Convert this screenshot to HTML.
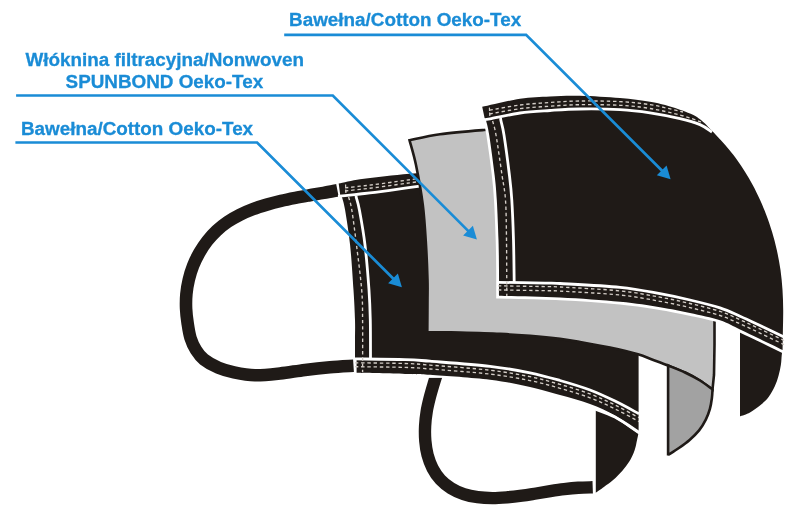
<!DOCTYPE html>
<html><head><meta charset="utf-8"><style>
html,body{margin:0;padding:0;background:#fff;}
body{width:800px;height:519px;overflow:hidden;font-family:"Liberation Sans",sans-serif;}
svg{display:block;filter:blur(0.35px);}
</style></head><body>
<svg width="800" height="519" viewBox="0 0 800 519">
<path d="M337.4 190.2 C335.12 190.65 328.3 192.05 323.7 192.9 C319.1 193.75 314.52 194.47 309.8 195.3 C305.08 196.13 300.2 196.97 295.4 197.9 C290.6 198.83 285.77 199.78 281 200.9 C276.23 202.02 271.48 203.23 266.8 204.6 C262.12 205.97 257.4 207.4 252.9 209.1 C248.4 210.8 244.02 212.67 239.8 214.8 C235.58 216.93 231.45 219.27 227.6 221.9 C223.75 224.53 220.1 227.42 216.7 230.6 C213.3 233.78 210.1 237.28 207.2 241 C204.3 244.72 201.65 248.77 199.3 252.9 C196.95 257.03 194.85 261.35 193.1 265.8 C191.35 270.25 189.92 274.9 188.8 279.6 C187.68 284.3 186.85 289.15 186.4 294 C185.95 298.85 185.9 303.87 186.1 308.7 C186.3 313.53 186.87 318.12 187.6 323 C188.33 327.88 189.1 333.5 190.5 338 C191.9 342.5 193.75 346.42 196 350 C198.25 353.58 200.25 356.53 204 359.5 C207.75 362.47 213.5 365.65 218.5 367.8 C223.5 369.95 227.92 371.15 234 372.4 C240.08 373.65 247.33 375.12 255 375.3 C262.67 375.48 271.67 374.4 280 373.5 C288.33 372.6 296.67 370.93 305 369.9 C313.33 368.87 321.92 367.98 330 367.3 C338.08 366.62 349.58 366.05 353.5 365.8" fill="none" stroke="#1f1a17" stroke-width="12.6"/>
<path d="M437.9 370.4 C437.22 372.57 435.13 378.95 433.8 383.4 C432.47 387.85 431.08 392.43 429.9 397.1 C428.72 401.77 427.5 406.57 426.7 411.4 C425.9 416.23 425.33 421.18 425.1 426.1 C424.87 431.02 424.88 436.05 425.3 440.9 C425.72 445.75 426.38 450.63 427.6 455.2 C428.82 459.77 430.47 464.23 432.6 468.3 C434.73 472.37 437.33 476.28 440.4 479.6 C443.47 482.92 447.12 485.78 451 488.2 C454.88 490.62 459.25 492.6 463.7 494.1 C468.15 495.6 472.92 496.53 477.7 497.2 C482.48 497.87 487.47 498.08 492.4 498.1 C497.33 498.12 502.38 497.7 507.3 497.3 C512.22 496.9 517.1 496.33 521.9 495.7 C526.7 495.07 531.38 494.25 536.1 493.5 C540.82 492.75 545.52 491.92 550.2 491.2 C554.88 490.48 559.52 489.77 564.2 489.2 C568.88 488.63 573.55 488.12 578.3 487.8 C583.05 487.48 590.3 487.38 592.7 487.3" fill="none" stroke="#1f1a17" stroke-width="12.4"/>
<rect x="420" y="365" width="30" height="12.9" fill="#fff"/>
<path d="M338.7 183.6 C342.25 182.88 352.28 180.53 360 179.3 C367.72 178.07 376.67 177.12 385 176.2 C393.33 175.28 400.83 174.67 410 173.8 C419.17 172.93 428.33 172.22 440 171 C451.67 169.78 473.33 167.25 480 166.5 L600 230 L636 330 L638.6 345 L638.6 431.4 C634.67 428.77 623.1 420.17 615 415.6 C606.9 411.03 599.17 407.43 590 404 C580.83 400.57 570 397.83 560 395 C550 392.17 541.67 389.55 530 387 C518.33 384.45 506.67 381.75 490 379.7 C473.33 377.65 444.17 375.67 430 374.7 C415.83 373.73 417.23 374.22 405 373.9 C392.77 373.58 364.67 372.98 356.6 372.8 L356.6 360 L355 358 C355 355 355 346.33 355 340 C355 333.67 355.25 328.33 355 320 C354.75 311.67 354.32 302.5 353.5 290 C352.68 277.5 351.5 258.33 350.1 245 C348.7 231.67 346.43 217.92 345.1 210 C343.77 202.08 342.6 199.58 342.1 197.5 L340.2 195.1 L338.7 183.6 Z" fill="#1f1a17"/>
<path d="M595.8 409.8 C599 411.2 607.92 414.17 615 418.2 C622.08 422.23 634.42 431.37 638.3 434 C637.95 435.7 636.93 441.15 636.2 444.2 C635.47 447.25 635.05 449.4 633.9 452.3 C632.75 455.2 631.22 458.52 629.3 461.6 C627.38 464.68 625.1 467.72 622.4 470.8 C619.7 473.88 616.18 477.4 613.1 480.1 C610.02 482.8 606.78 484.88 603.9 487 C601.02 489.12 597.15 491.83 595.8 492.8 L595.8 409.8 Z" fill="#1f1a17"/>
<path d="M338 196.3 C339.17 196.2 341.33 196.08 345 195.7 C348.67 195.32 355 194.57 360 194 C365 193.43 367.5 193.27 375 192.3 C382.5 191.33 397.5 189.22 405 188.2 C412.5 187.18 414.17 186.97 420 186.2 C425.83 185.43 430 184.88 440 183.6 C450 182.32 473.33 179.35 480 178.5" fill="none" stroke="#fff" stroke-width="2.8"/>
<path d="M356.3 195.5 C356.3 195.83 355.78 195.08 356.3 197.5 C356.82 199.92 357.95 202.08 359.4 210 C360.85 217.92 363.4 231.67 365 245 C366.6 258.33 368.12 277.5 369 290 C369.88 302.5 370.05 308.53 370.3 320 C370.55 331.47 370.47 352.33 370.5 358.8" fill="none" stroke="#fff" stroke-width="2.8"/>
<path d="M355 358.9 C363.33 359.02 392.5 359.22 405 359.6 C417.5 359.98 415.83 360.08 430 361.2 C444.17 362.32 473.33 364.37 490 366.3 C506.67 368.23 518.33 370.43 530 372.8 C541.67 375.17 550 377.63 560 380.5 C570 383.37 580.83 386.57 590 390 C599.17 393.43 606.83 397.13 615 401.1 C623.17 405.07 635 411.68 639 413.8" fill="none" stroke="#fff" stroke-width="2.8"/>
<path d="M594 408.6 C597.5 410.02 607.33 413.05 615 417.1 C622.67 421.15 635.83 430.27 640 432.9" fill="none" stroke="#fff" stroke-width="2.8"/>
<path d="M345 187.9 C347.5 187.62 355 186.77 360 186.2 C365 185.63 367.5 185.47 375 184.5 C382.5 183.53 397.5 181.42 405 180.4 C412.5 179.38 414.17 179.17 420 178.4 C425.83 177.63 430 177.08 440 175.8 C450 174.52 473.33 171.55 480 170.7" fill="none" stroke="#d4cec8" stroke-width="1.35" stroke-dasharray="3.4 2.8"/>
<path d="M345 191 C347.5 190.72 355 189.87 360 189.3 C365 188.73 367.5 188.57 375 187.6 C382.5 186.63 397.5 184.52 405 183.5 C412.5 182.48 414.17 182.27 420 181.5 C425.83 180.73 430 180.18 440 178.9 C450 177.62 473.33 174.65 480 173.8" fill="none" stroke="#d4cec8" stroke-width="1.35" stroke-dasharray="3.4 2.8"/>
<path d="M355 362.8 C363.33 362.92 392.5 363.12 405 363.5 C417.5 363.88 415.83 363.98 430 365.1 C444.17 366.22 473.33 368.27 490 370.2 C506.67 372.13 518.33 374.33 530 376.7 C541.67 379.07 550 381.53 560 384.4 C570 387.27 580.83 390.47 590 393.9 C599.17 397.33 606.83 401.03 615 405 C623.17 408.97 635 415.58 639 417.7" fill="none" stroke="#d4cec8" stroke-width="1.35" stroke-dasharray="3.4 2.8"/>
<path d="M355 366.7 C363.33 366.82 392.5 367.02 405 367.4 C417.5 367.78 415.83 367.88 430 369 C444.17 370.12 473.33 372.17 490 374.1 C506.67 376.03 518.33 378.23 530 380.6 C541.67 382.97 550 385.43 560 388.3 C570 391.17 580.83 394.37 590 397.8 C599.17 401.23 606.83 404.93 615 408.9 C623.17 412.87 635 419.48 639 421.6" fill="none" stroke="#d4cec8" stroke-width="1.35" stroke-dasharray="3.4 2.8"/>
<path d="M348.6 197 C349.13 199.17 350.48 202 351.8 210 C353.12 218 354.85 231.67 356.5 245 C358.15 258.33 360.68 277.5 361.7 290 C362.72 302.5 362.45 306.33 362.6 320 C362.75 333.67 362.6 363.33 362.6 372" fill="none" stroke="#d4cec8" stroke-width="1.35" stroke-dasharray="3.4 2.8"/>
<path d="M345.6 184.6 L345.9 193.4" fill="none" stroke="#d4cec8" stroke-width="1.2" stroke-dasharray="3.4 1.6"/>
<path d="M409.5 140.2 C414.58 139.2 427.58 135.9 440 134.2 C452.42 132.5 469 131.2 484 130 C499 128.8 522.33 127.5 530 127 L650 200 L714.5 300 L714.5 345 L714 375 L712.5 389.5 C710.42 388 704.58 383.33 700 380.5 C695.42 377.67 690.33 375 685 372.5 C679.67 370 673.5 367.67 668 365.5 C662.5 363.33 657 361.37 652 359.5 C647 357.63 645 356.28 638 354.3 C631 352.32 619.67 349.65 610 347.6 C600.33 345.55 588.33 343.45 580 342 C571.67 340.55 568.33 339.92 560 338.9 C551.67 337.88 540 336.73 530 335.9 C520 335.07 511.67 334.45 500 333.9 C488.33 333.35 472.12 332.92 460 332.6 C447.88 332.28 432.75 332.1 427.3 332 C427.33 326.67 427.47 308.67 427.5 300 C427.53 291.33 427.75 289.17 427.5 280 C427.25 270.83 426.78 257.5 426 245 C425.22 232.5 424.47 218.33 422.8 205 C421.13 191.67 418.22 175.8 416 165 C413.78 154.2 410.58 144.33 409.5 140.2 Z" fill="#c2c2c2" stroke="#1f1a17" stroke-width="2.6" stroke-linejoin="miter"/>
<path d="M668.1 365.5 C670.92 366.67 679.68 370 685 372.5 C690.32 375 695.42 377.67 700 380.5 C704.58 383.33 710.42 388 712.5 389.5 C712.4 390.92 712.33 394.77 711.9 398 C711.47 401.23 710.92 405.3 709.9 408.9 C708.88 412.5 707.6 416.02 705.8 419.6 C704 423.18 701.8 427.02 699.1 430.4 C696.4 433.78 692.97 436.97 689.6 439.9 C686.23 442.83 682.48 445.48 678.9 448 C675.32 450.52 669.9 453.83 668.1 455 L668.1 455.4 L668.1 365.5 Z" fill="#a2a2a2" stroke="#1f1a17" stroke-width="2.6" stroke-linejoin="miter"/>
<path d="M740 332 L782.6 350 C782.45 350.9 781.98 352.95 781.7 355.4 C781.42 357.85 781.42 361.35 780.9 364.7 C780.38 368.05 779.62 371.9 778.6 375.5 C777.58 379.1 776.47 382.7 774.8 386.3 C773.13 389.9 770.92 394.02 768.6 397.1 C766.28 400.18 764 402.23 760.9 404.8 C757.8 407.37 753.48 410.57 750 412.5 C746.52 414.43 741.67 415.75 740 416.4 L740 332 Z" fill="#1f1a17"/>
<path d="M482.2 106.8 C488.5 105.47 508.7 100.53 520 98.8 C531.3 97.07 540 96.9 550 96.4 C560 95.9 568.33 95.52 580 95.8 C591.67 96.08 608.33 97.1 620 98.1 C631.67 99.1 641.67 100.4 650 101.8 C658.33 103.2 663.33 104.55 670 106.5 C676.67 108.45 684.83 111.25 690 113.5 C695.17 115.75 697.5 117.3 701 120 C704.5 122.7 709.33 128.08 711 129.7 C712.62 131.42 717.63 136.62 720.7 140 C723.77 143.38 726.67 146.67 729.4 150 C732.13 153.33 734.48 156.33 737.1 160 C739.72 163.67 742.5 167.83 745.1 172 C747.7 176.17 750.2 180.33 752.7 185 C755.2 189.67 757.83 195 760.1 200 C762.37 205 764.3 209.67 766.3 215 C768.3 220.33 770.35 226.17 772.1 232 C773.85 237.83 775.4 243.67 776.8 250 C778.2 256.33 779.55 263.33 780.5 270 C781.45 276.67 782.05 283.33 782.5 290 C782.95 296.67 783.13 303.33 783.2 310 C783.27 316.67 783 323.33 782.9 330 C782.8 336.67 782.65 346.67 782.6 350 C778.83 348.17 767.1 342.43 760 339 C752.9 335.57 746.67 332.53 740 329.4 C733.33 326.27 728.33 322.93 720 320.2 C711.67 317.47 700 315.17 690 313 C680 310.83 671.67 309.07 660 307.2 C648.33 305.33 636.67 303.42 620 301.8 C603.33 300.18 580.17 298.5 560 297.5 C539.83 296.5 509.17 296.08 499 295.8 C499 291.5 499.08 279.3 499 270 C498.92 260.7 498.87 251.67 498.5 240 C498.13 228.33 497.45 210.83 496.8 200 C496.15 189.17 495.87 185.83 494.6 175 C493.33 164.17 490.6 144 489.2 135 C487.8 126 486.7 123.33 486.2 121 L484.6 118.1 L482.2 106.8 Z" fill="#1f1a17" stroke="#fff" stroke-width="5.6" stroke-linejoin="miter" stroke-miterlimit="3" paint-order="stroke"/>
<path d="M484 119.6 C485 119.48 484 120 490 118.9 C496 117.8 510 114.4 520 113 C530 111.6 540 111.17 550 110.5 C560 109.83 568.33 109.15 580 109 C591.67 108.85 608.33 108.97 620 109.6 C631.67 110.23 640 111.3 650 112.8 C660 114.3 671.67 116.63 680 118.6 C688.33 120.57 694.67 122.37 700 124.6 C705.33 126.83 710 130.77 712 132" fill="none" stroke="#fff" stroke-width="2.8"/>
<path d="M500.6 118 C500.67 118.5 500.43 118.17 501 121 C501.57 123.83 502.6 126 504 135 C505.4 144 508.1 164.17 509.4 175 C510.7 185.83 511.12 189.17 511.8 200 C512.48 210.83 513.1 226.28 513.5 240 C513.9 253.72 514.08 275.25 514.2 282.3" fill="none" stroke="#fff" stroke-width="2.8"/>
<path d="M498 282.3 C505.83 282.43 534.67 282.9 545 283.1 C555.33 283.3 547.5 282.78 560 283.5 C572.5 284.22 603.33 285.7 620 287.4 C636.67 289.1 648.33 291.6 660 293.7 C671.67 295.8 680 297.63 690 300 C700 302.37 711.67 305.2 720 307.9 C728.33 310.6 733.33 313.27 740 316.2 C746.67 319.13 752.67 322.03 760 325.5 C767.33 328.97 780 335.08 784 337" fill="none" stroke="#fff" stroke-width="2.8"/>
<path d="M489.5 110.2 C494.58 109.33 509.92 106.28 520 105 C530.08 103.72 540 103.17 550 102.5 C560 101.83 568.33 101.15 580 101 C591.67 100.85 608.33 101 620 101.6 C631.67 102.2 642 103.47 650 104.6 C658 105.73 662.5 107.17 668 108.4 C673.5 109.63 680.5 111.4 683 112" fill="none" stroke="#d4cec8" stroke-width="1.35" stroke-dasharray="3.4 2.8"/>
<path d="M489.5 114 C494.58 113.12 509.92 110 520 108.7 C530.08 107.4 540 106.87 550 106.2 C560 105.53 568.33 104.85 580 104.7 C591.67 104.55 608.33 104.67 620 105.3 C631.67 105.93 640 106.88 650 108.5 C660 110.12 671.5 112.78 680 115 C688.5 117.22 697.5 120.67 701 121.8" fill="none" stroke="#d4cec8" stroke-width="1.35" stroke-dasharray="3.4 2.8"/>
<path d="M498 285.8 C505.83 285.93 534.67 286.4 545 286.6 C555.33 286.8 547.5 286.28 560 287 C572.5 287.72 603.33 289.2 620 290.9 C636.67 292.6 648.33 295.1 660 297.2 C671.67 299.3 680 301.13 690 303.5 C700 305.87 711.67 308.7 720 311.4 C728.33 314.1 733.33 316.77 740 319.7 C746.67 322.63 752.67 325.53 760 329 C767.33 332.47 780 338.58 784 340.5" fill="none" stroke="#d4cec8" stroke-width="1.35" stroke-dasharray="3.4 2.8"/>
<path d="M498 289.9 C505.83 290.03 534.67 290.5 545 290.7 C555.33 290.9 547.5 290.38 560 291.1 C572.5 291.82 603.33 293.3 620 295 C636.67 296.7 648.33 299.2 660 301.3 C671.67 303.4 680 305.23 690 307.6 C700 309.97 711.67 312.8 720 315.5 C728.33 318.2 733.33 320.87 740 323.8 C746.67 326.73 752.67 329.63 760 333.1 C767.33 336.57 780 342.68 784 344.6" fill="none" stroke="#d4cec8" stroke-width="1.35" stroke-dasharray="3.4 2.8"/>
<path d="M492.6 121 C493.17 123.33 494.43 126 496 135 C497.57 144 500.42 164.17 502 175 C503.58 185.83 504.75 189.17 505.5 200 C506.25 210.83 506.28 224 506.5 240 C506.72 256 506.75 286.67 506.8 296" fill="none" stroke="#d4cec8" stroke-width="1.35" stroke-dasharray="3.4 2.8"/>
<path d="M489.4 107.6 L489.8 116.2" fill="none" stroke="#d4cec8" stroke-width="1.2" stroke-dasharray="3.4 1.6"/>
<path d="M284.2 34.8 L526.1 34.8 L663.1 171.8" fill="none" stroke="#1a8cd6" stroke-width="2.7" stroke-linejoin="miter"/><path d="M670.6 179.3 L656.81 175.27 L666.57 165.51Z" fill="#1a8cd6"/>
<path d="M16.1 95.5 L332.8 95.5 L469.4 232.1" fill="none" stroke="#1a8cd6" stroke-width="2.7" stroke-linejoin="miter"/><path d="M476.9 239.6 L463.11 235.57 L472.87 225.81Z" fill="#1a8cd6"/>
<path d="M15.4 142.5 L257.1 142.5 L394.4 279.8" fill="none" stroke="#1a8cd6" stroke-width="2.7" stroke-linejoin="miter"/><path d="M401.9 287.3 L388.11 283.27 L397.87 273.51Z" fill="#1a8cd6"/>
<g font-family="Liberation Sans, sans-serif" font-weight="bold" font-size="18.85" fill="#1a8cd6" stroke="#1a8cd6" stroke-width="0.3">
<text x="289.1" y="26.1">Bawełna/Cotton Oeko-Tex</text>
<text x="25.5" y="66.3">Włóknina filtracyjna/Nonwoven</text>
<text x="65.6" y="87.5">SPUNBOND Oeko-Tex</text>
<text x="21" y="134.6">Bawełna/Cotton Oeko-Tex</text>
</g>
</svg>
</body></html>
